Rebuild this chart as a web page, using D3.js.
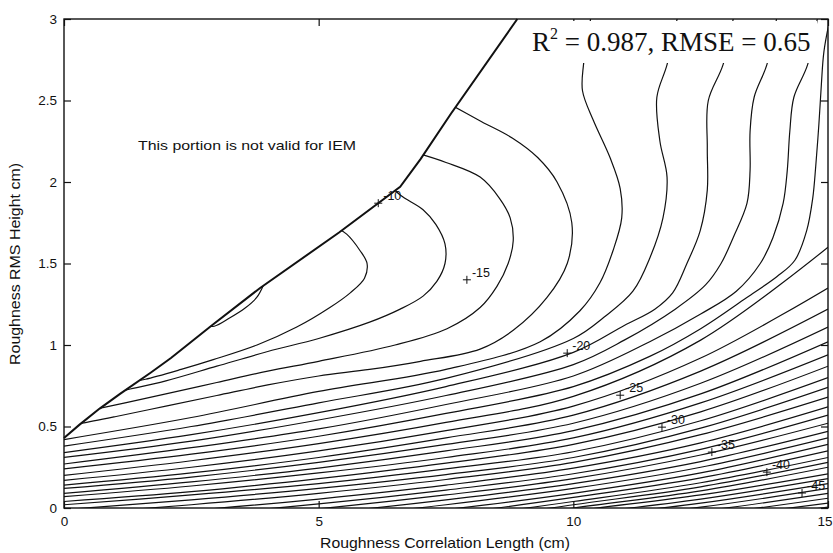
<!DOCTYPE html>
<html>
<head>
<meta charset="utf-8">
<script src="https://cdn.jsdelivr.net/npm/d3@7"></script>
<style>
body { margin: 0; background: #fff; }
text { font-family: "Liberation Sans", Arial, sans-serif; fill: #111; }
</style>
</head>
<body>
<svg id="chart" width="833" height="553"></svg>
<script>
// ticks
const xTicks = [0, 5, 10, 15]
const yTicks = [0, 0.5, 1, 1.5, 2, 2.5, 3]

// edge of the region where IEM is valid (cm, cm)
const boundary = [[0,0.43],[0.3,0.51],[0.7,0.61],[1.1,0.70],[1.7,0.83],[2.1,0.92],[2.5,1.02],[2.9,1.12],[3.85,1.35],[5.4,1.69],[6.6,1.97],[7.0,2.14],[7.6,2.42],[8.9,3.0]]

// closed-ish contours near the boundary
const lens = [[2.75,1.12],[2.95,1.115],[3.25,1.165],[3.55,1.225],[3.78,1.29],[3.92,1.37]]
const arc9 = [[5.35,1.72],[5.55,1.68],[5.81,1.58],[5.95,1.50],[5.9,1.41],[5.62,1.32],[5.22,1.23],[4.57,1.11],[3.79,1.0],[2.93,0.91],[2.3,0.85],[1.6,0.79],[1.4,0.78]]
const arc10 = [[6.35,2.0],[6.6,1.92],[7.05,1.83],[7.3,1.74],[7.48,1.62],[7.48,1.50],[7.32,1.39],[7.05,1.30],[6.6,1.22],[6.0,1.14],[5.0,1.04],[4.0,0.96],[3.0,0.87],[2.0,0.78],[1.3,0.73],[1.0,0.71]]
const arc11 = [[6.9,2.18],[7.5,2.12],[8.17,2.03],[8.55,1.90],[8.76,1.78],[8.82,1.64],[8.72,1.50],[8.5,1.36],[8.17,1.23],[7.52,1.10],[6.5,1.00],[5.0,0.90],[4.0,0.84],[3.0,0.77],[2.0,0.70],[1.2,0.645],[0.6,0.605]]
const arc12 = [[7.5,2.49],[8.2,2.37],[8.8,2.27],[9.3,2.15],[9.68,2.0],[9.97,1.75],[9.88,1.50],[9.48,1.29],[8.82,1.09],[8.17,0.975],[7.0,0.90],[6.0,0.85],[5.0,0.81],[4.0,0.755],[3.0,0.69],[2.0,0.625],[1.0,0.56],[0.35,0.52],[0.15,0.51]]

// the other contours: y at fixed x columns (null = off the plot)
const colX = [0, 2.5, 5, 7.5, 10, 12.5, 15]

// bending contours: lower part on the columns 0..7.5, then the upper part
const vLow = [
  [0.42, 0.555, 0.715, 0.85],
  [0.38, 0.50, 0.645, 0.795],
  [0.34, 0.45, 0.585, 0.745],
  [0.31, 0.41, 0.54, 0.69],
  [0.27, 0.37, 0.485, 0.635],
  [0.24, 0.33, 0.44, 0.58]
]
const vTop = [
  [[9.35,1.02],[10.13,1.21],[10.52,1.38],[10.78,1.58],[10.95,1.78],[10.92,1.96],[10.72,2.15],[10.39,2.38],[10.18,2.56],[10.2,2.72],[10.35,3.02]],
  [[10,1.04],[10.6,1.17],[11.17,1.33],[11.51,1.54],[11.76,1.78],[11.84,2.03],[11.7,2.25],[11.64,2.52],[11.84,2.72],[12.05,3.02]],
  [[10,0.955],[11.0,1.12],[11.6,1.22],[11.95,1.32],[12.23,1.50],[12.49,1.70],[12.63,1.95],[12.63,2.21],[12.65,2.50],[12.94,2.72],[13.15,3.02]],
  [[10,0.88],[11.0,1.03],[12.0,1.22],[12.6,1.37],[12.9,1.50],[13.14,1.66],[13.41,1.87],[13.47,2.07],[13.47,2.31],[13.55,2.52],[13.8,2.72],[14.0,3.02]],
  [[10,0.81],[11.5,1.02],[12.5,1.19],[13.2,1.33],[13.67,1.50],[13.92,1.66],[14.12,1.87],[14.2,2.07],[14.25,2.31],[14.33,2.52],[14.6,2.72],[14.8,3.02]],
  [[10,0.745],[11.5,0.93],[12.5,1.10],[13.4,1.29],[14.0,1.42],[14.35,1.52],[14.58,1.70],[14.7,1.9],[14.76,2.1],[14.82,2.35],[14.87,2.6],[14.92,2.8],[15.05,3.02]]
]

// contours running to the right edge
const rRows = [
  [0.20, 0.29, 0.395, 0.525, 0.685, 1.03, 1.60],
  [0.17, 0.25, 0.35, 0.475, 0.625, 0.92, 1.35],
  [0.14, 0.215, 0.31, 0.43, 0.57, 0.84, 1.22],
  [0.12, 0.19, 0.28, 0.39, 0.52, 0.765, 1.11],
  [0.09, 0.16, 0.245, 0.35, 0.475, 0.70, 1.02],
  [0.07, 0.135, 0.215, 0.31, 0.43, 0.645, 0.94],
  [0.04, 0.10, 0.18, 0.275, 0.39, 0.59, 0.87],
  [0.02, 0.08, 0.15, 0.24, 0.345, 0.535, 0.80],
  [-0.01, 0.05, 0.12, 0.205, 0.31, 0.49, 0.74],
  [-0.04, 0.02, 0.09, 0.175, 0.28, 0.45, 0.68],
  [-0.07, -0.015, 0.055, 0.14, 0.245, 0.40, 0.62],
  [-0.10, -0.045, 0.025, 0.11, 0.21, 0.36, 0.57],
  [-0.13, -0.075, -0.005, 0.08, 0.18, 0.325, 0.52],
  [null, -0.105, -0.035, 0.05, 0.15, 0.285, 0.47],
  [null, -0.135, -0.065, 0.02, 0.12, 0.25, 0.43],
  [null, null, -0.095, -0.01, 0.09, 0.215, 0.39],
  [null, null, -0.125, -0.04, 0.065, 0.185, 0.35],
  [null, null, -0.15, -0.065, 0.04, 0.155, 0.31],
  [null, null, -0.18, -0.09, 0.02, 0.13, 0.28],
  [null, null, null, -0.115, 0.0, 0.105, 0.25],
  [null, null, null, -0.14, -0.02, 0.08, 0.21],
  [null, null, null, null, -0.04, 0.055, 0.18],
  [null, null, null, null, -0.06, 0.03, 0.15],
  [null, null, null, null, -0.08, 0.005, 0.12],
  [null, null, null, null, -0.10, -0.02, 0.09],
  [null, null, null, null, -0.12, -0.045, 0.06],
  [null, null, null, null, null, -0.07, 0.03],
  [null, null, null, null, null, -0.095, 0.005]
]

// contour labels (dB) and where their "+" sits
const labelText = ['-10', '-15', '-20', '-25', '-30', '-35', '-40', '-45']
const labelX = [6.17, 7.91, 9.88, 10.92, 11.74, 12.72, 13.8, 14.49]
const labelY = [1.87, 1.40, 0.95, 0.692, 0.496, 0.343, 0.22, 0.092]


const svg = d3.select('#chart')
const x = d3.scaleLinear().domain([0, 15]).range([64, 828])
const y = d3.scaleLinear().domain([0, 3]).range([508, 19])

const straight = d3.line().x(d => x(d[0])).y(d => y(d[1]))
const smooth = d3.line().x(d => x(d[0])).y(d => y(d[1])).curve(d3.curveCatmullRom.alpha(0.5))

// clip = plot box minus the part above the boundary
const validArea = [[0, 0], [15, 0], [15, 3]].concat(boundary.slice().reverse())
svg.append('clipPath').attr('id', 'valid')
    .append('path').attr('d', straight(validArea) + 'Z')

let contours = [lens, arc9, arc10, arc11, arc12]
vLow.forEach((row, i) => {
    contours.push(row.map((v, j) => [colX[j], v]).concat(vTop[i]))
})
rRows.forEach(row => {
    contours.push(row.map((v, j) => [colX[j], v]).filter(d => d[1] !== null))
})

svg.append('g')
    .attr('clip-path', 'url(#valid)')
    .selectAll('path')
    .data(contours)
    .join('path')
    .attr('d', smooth)
    .attr('fill', 'none')
    .attr('stroke', '#111')
    .attr('stroke-width', 1.2)

// boundary line
svg.append('path')
    .attr('d', straight(boundary))
    .attr('fill', 'none')
    .attr('stroke', '#111')
    .attr('stroke-width', 2)

// label markers
const lab = svg.append('g')
labelText.forEach((t, i) => {
    const px = x(labelX[i]), py = y(labelY[i])
    lab.append('path')
        .attr('d', `M${px - 4},${py}h8M${px},${py - 4}v8`)
        .attr('stroke', '#111').attr('stroke-width', 1)
    lab.append('text')
        .attr('x', px + 5).attr('y', py - 3)
        .attr('font-size', 12.5)
        .text(t)
})

// frame
svg.append('rect')
    .attr('x', x(0)).attr('y', y(3))
    .attr('width', x(15) - x(0)).attr('height', y(0) - y(3))
    .attr('fill', 'none').attr('stroke', '#111').attr('stroke-width', 1.4)

// ticks inside on the 4 sides
const fmt = d => String(d)
svg.append('g').attr('transform', `translate(0,${y(0)})`)
    .call(d3.axisBottom(x).tickValues(xTicks).tickFormat(fmt).tickSizeInner(-7).tickSizeOuter(0).tickPadding(8))
svg.append('g').attr('transform', `translate(0,${y(3)})`)
    .call(d3.axisTop(x).tickValues(xTicks).tickFormat('').tickSizeInner(-7).tickSizeOuter(0))
svg.append('g').attr('transform', `translate(${x(0)},0)`)
    .call(d3.axisLeft(y).tickValues(yTicks).tickFormat(fmt).tickSizeInner(-7).tickSizeOuter(0).tickPadding(7))
svg.append('g').attr('transform', `translate(${x(15)},0)`)
    .call(d3.axisRight(y).tickValues(yTicks).tickFormat('').tickSizeInner(-7).tickSizeOuter(0))
svg.selectAll('.domain').remove()
svg.selectAll('.tick line').attr('stroke', '#111').attr('stroke-width', 1.2)
svg.selectAll('.tick text').attr('font-size', 13.5).attr('fill', '#111')
    .attr('font-family', '"Liberation Sans", Arial, sans-serif')
// last x label sits against the page edge
svg.selectAll('.tick text').filter(d => d === 15)
    .attr('text-anchor', 'end').attr('x', 832 - x(15))

// fit statistics box
svg.append('rect')
    .attr('x', 527).attr('y', 21).attr('width', 290).attr('height', 42)
    .attr('fill', '#fff')
const stat = svg.append('text')
    .attr('x', 532).attr('y', 51)
    .style('font-family', '"Liberation Serif", "Times New Roman", serif')
    .attr('font-size', 27)
stat.append('tspan').text('R')
stat.append('tspan').attr('font-size', 16).attr('dy', -12).text('2')
stat.append('tspan').attr('dy', 12).text(' = 0.987, RMSE = 0.65')

svg.append('text')
    .attr('x', 138).attr('y', 150)
    .attr('font-size', 13.5)
    .attr('textLength', 218).attr('lengthAdjust', 'spacingAndGlyphs')
    .text('This portion is not valid for IEM')

// axis titles
svg.append('text')
    .attr('x', 445).attr('y', 548)
    .attr('text-anchor', 'middle')
    .attr('font-size', 14.5)
    .attr('textLength', 250).attr('lengthAdjust', 'spacingAndGlyphs')
    .text('Roughness Correlation Length (cm)')
svg.append('text')
    .attr('transform', 'translate(20,264) rotate(-90)')
    .attr('text-anchor', 'middle')
    .attr('font-size', 14.5)
    .attr('textLength', 202).attr('lengthAdjust', 'spacingAndGlyphs')
    .text('Roughness RMS Height cm)')
</script>
</body>
</html>
